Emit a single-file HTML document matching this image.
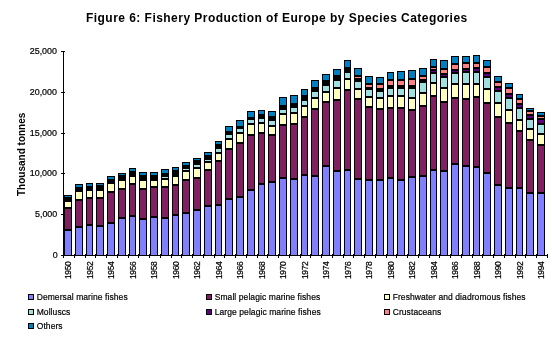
<!DOCTYPE html>
<html><head><meta charset="utf-8"><style>
html,body{margin:0;padding:0;background:#fff;}
.txt{filter:contrast(4);}
#c{position:relative;width:552px;height:338px;overflow:hidden;background:#fff;font-family:"Liberation Sans",sans-serif;color:#000;}
svg{position:absolute;left:0;top:0;}
.title{position:absolute;left:86px;top:11px;font-weight:bold;font-size:12px;letter-spacing:0.46px;white-space:nowrap;line-height:14px;}
.yl{position:absolute;right:494.7px;font-size:8.5px;-webkit-text-stroke:0.2px #000;line-height:12px;white-space:nowrap;transform-origin:100% 50%;transform:scale(1.05,1.15);}
.xl{position:absolute;top:279px;font-size:8.5px;-webkit-text-stroke:0.2px #000;letter-spacing:-0.4px;line-height:8px;white-space:nowrap;transform-origin:0 0;transform:rotate(-90deg) translate(0,-4.6px) scale(1,1.15);}
.ytitle{position:absolute;left:17px;top:196px;font-weight:bold;font-size:10px;letter-spacing:0px;line-height:9px;white-space:nowrap;transform-origin:0 0;transform:rotate(-90deg);}
.sw{position:absolute;width:4px;height:4px;border:1px solid #000;}
.lt{position:absolute;font-size:8.5px;letter-spacing:0.08px;-webkit-text-stroke:0.2px #000;line-height:12px;white-space:nowrap;}
</style></head><body><div id="c">
<svg width="552" height="338" shape-rendering="crispEdges">
<rect x="63" y="51" width="1" height="205" fill="#000"/>
<rect x="61" y="255" width="487" height="1" fill="#000"/>
<rect x="61" y="255" width="4" height="1" fill="#000"/>
<rect x="61" y="214" width="4" height="1" fill="#000"/>
<rect x="61" y="173" width="4" height="1" fill="#000"/>
<rect x="61" y="133" width="4" height="1" fill="#000"/>
<rect x="61" y="92" width="4" height="1" fill="#000"/>
<rect x="61" y="51" width="4" height="1" fill="#000"/>
<rect x="63" y="254" width="1" height="4" fill="#000"/>
<rect x="74" y="254" width="1" height="4" fill="#000"/>
<rect x="85" y="254" width="1" height="4" fill="#000"/>
<rect x="95" y="254" width="1" height="4" fill="#000"/>
<rect x="106" y="254" width="1" height="4" fill="#000"/>
<rect x="117" y="254" width="1" height="4" fill="#000"/>
<rect x="128" y="254" width="1" height="4" fill="#000"/>
<rect x="138" y="254" width="1" height="4" fill="#000"/>
<rect x="149" y="254" width="1" height="4" fill="#000"/>
<rect x="160" y="254" width="1" height="4" fill="#000"/>
<rect x="171" y="254" width="1" height="4" fill="#000"/>
<rect x="181" y="254" width="1" height="4" fill="#000"/>
<rect x="192" y="254" width="1" height="4" fill="#000"/>
<rect x="203" y="254" width="1" height="4" fill="#000"/>
<rect x="214" y="254" width="1" height="4" fill="#000"/>
<rect x="224" y="254" width="1" height="4" fill="#000"/>
<rect x="235" y="254" width="1" height="4" fill="#000"/>
<rect x="246" y="254" width="1" height="4" fill="#000"/>
<rect x="257" y="254" width="1" height="4" fill="#000"/>
<rect x="267" y="254" width="1" height="4" fill="#000"/>
<rect x="278" y="254" width="1" height="4" fill="#000"/>
<rect x="289" y="254" width="1" height="4" fill="#000"/>
<rect x="300" y="254" width="1" height="4" fill="#000"/>
<rect x="310" y="254" width="1" height="4" fill="#000"/>
<rect x="321" y="254" width="1" height="4" fill="#000"/>
<rect x="332" y="254" width="1" height="4" fill="#000"/>
<rect x="343" y="254" width="1" height="4" fill="#000"/>
<rect x="353" y="254" width="1" height="4" fill="#000"/>
<rect x="364" y="254" width="1" height="4" fill="#000"/>
<rect x="375" y="254" width="1" height="4" fill="#000"/>
<rect x="386" y="254" width="1" height="4" fill="#000"/>
<rect x="396" y="254" width="1" height="4" fill="#000"/>
<rect x="407" y="254" width="1" height="4" fill="#000"/>
<rect x="418" y="254" width="1" height="4" fill="#000"/>
<rect x="429" y="254" width="1" height="4" fill="#000"/>
<rect x="439" y="254" width="1" height="4" fill="#000"/>
<rect x="450" y="254" width="1" height="4" fill="#000"/>
<rect x="461" y="254" width="1" height="4" fill="#000"/>
<rect x="472" y="254" width="1" height="4" fill="#000"/>
<rect x="482" y="254" width="1" height="4" fill="#000"/>
<rect x="493" y="254" width="1" height="4" fill="#000"/>
<rect x="504" y="254" width="1" height="4" fill="#000"/>
<rect x="515" y="254" width="1" height="4" fill="#000"/>
<rect x="525" y="254" width="1" height="4" fill="#000"/>
<rect x="536" y="254" width="1" height="4" fill="#000"/>
<rect x="547" y="254" width="1" height="4" fill="#000"/>
<rect x="64" y="195" width="8" height="60" fill="#000"/>
<rect x="65" y="196" width="6" height="1" fill="#0080C0"/>
<rect x="65" y="202" width="6" height="5" fill="#FFFFC0"/>
<rect x="65" y="209" width="6" height="20" fill="#802060"/>
<rect x="65" y="231" width="6" height="24" fill="#8080FF"/>
<rect x="75" y="184" width="8" height="71" fill="#000"/>
<rect x="76" y="185" width="6" height="2" fill="#0080C0"/>
<rect x="76" y="192" width="6" height="7" fill="#FFFFC0"/>
<rect x="76" y="201" width="6" height="25" fill="#802060"/>
<rect x="76" y="228" width="6" height="27" fill="#8080FF"/>
<rect x="86" y="183" width="7" height="72" fill="#000"/>
<rect x="87" y="184" width="5" height="2" fill="#0080C0"/>
<rect x="87" y="191" width="5" height="6" fill="#FFFFC0"/>
<rect x="87" y="199" width="5" height="25" fill="#802060"/>
<rect x="87" y="226" width="5" height="29" fill="#8080FF"/>
<rect x="96" y="183" width="8" height="72" fill="#000"/>
<rect x="97" y="184" width="6" height="1" fill="#0080C0"/>
<rect x="97" y="191" width="6" height="6" fill="#FFFFC0"/>
<rect x="97" y="199" width="6" height="26" fill="#802060"/>
<rect x="97" y="227" width="6" height="28" fill="#8080FF"/>
<rect x="107" y="176" width="8" height="79" fill="#000"/>
<rect x="108" y="177" width="6" height="2" fill="#0080C0"/>
<rect x="108" y="184" width="6" height="7" fill="#FFFFC0"/>
<rect x="108" y="193" width="6" height="29" fill="#802060"/>
<rect x="108" y="224" width="6" height="31" fill="#8080FF"/>
<rect x="118" y="173" width="8" height="82" fill="#000"/>
<rect x="119" y="174" width="6" height="1" fill="#0080C0"/>
<rect x="119" y="181" width="6" height="7" fill="#FFFFC0"/>
<rect x="119" y="190" width="6" height="27" fill="#802060"/>
<rect x="119" y="219" width="6" height="36" fill="#8080FF"/>
<rect x="129" y="168" width="7" height="87" fill="#000"/>
<rect x="130" y="169" width="5" height="2" fill="#0080C0"/>
<rect x="130" y="177" width="5" height="6" fill="#FFFFC0"/>
<rect x="130" y="185" width="5" height="30" fill="#802060"/>
<rect x="130" y="217" width="5" height="38" fill="#8080FF"/>
<rect x="139" y="172" width="8" height="83" fill="#000"/>
<rect x="140" y="173" width="6" height="2" fill="#0080C0"/>
<rect x="140" y="181" width="6" height="7" fill="#FFFFC0"/>
<rect x="140" y="190" width="6" height="28" fill="#802060"/>
<rect x="140" y="220" width="6" height="35" fill="#8080FF"/>
<rect x="150" y="172" width="8" height="83" fill="#000"/>
<rect x="151" y="173" width="6" height="2" fill="#0080C0"/>
<rect x="151" y="181" width="6" height="5" fill="#FFFFC0"/>
<rect x="151" y="188" width="6" height="28" fill="#802060"/>
<rect x="151" y="218" width="6" height="37" fill="#8080FF"/>
<rect x="161" y="169" width="8" height="86" fill="#000"/>
<rect x="162" y="170" width="6" height="3" fill="#0080C0"/>
<rect x="162" y="177" width="6" height="1" fill="#A0E0E0"/>
<rect x="162" y="180" width="6" height="6" fill="#FFFFC0"/>
<rect x="162" y="188" width="6" height="29" fill="#802060"/>
<rect x="162" y="219" width="6" height="36" fill="#8080FF"/>
<rect x="172" y="167" width="7" height="88" fill="#000"/>
<rect x="173" y="168" width="5" height="2" fill="#0080C0"/>
<rect x="173" y="177" width="5" height="7" fill="#FFFFC0"/>
<rect x="173" y="186" width="5" height="28" fill="#802060"/>
<rect x="173" y="216" width="5" height="39" fill="#8080FF"/>
<rect x="182" y="162" width="8" height="93" fill="#000"/>
<rect x="183" y="163" width="6" height="2" fill="#0080C0"/>
<rect x="183" y="169" width="6" height="1" fill="#A0E0E0"/>
<rect x="183" y="172" width="6" height="7" fill="#FFFFC0"/>
<rect x="183" y="181" width="6" height="31" fill="#802060"/>
<rect x="183" y="214" width="6" height="41" fill="#8080FF"/>
<rect x="193" y="158" width="8" height="97" fill="#000"/>
<rect x="194" y="159" width="6" height="1" fill="#0080C0"/>
<rect x="194" y="165" width="6" height="2" fill="#A0E0E0"/>
<rect x="194" y="169" width="6" height="8" fill="#FFFFC0"/>
<rect x="194" y="179" width="6" height="30" fill="#802060"/>
<rect x="194" y="211" width="6" height="44" fill="#8080FF"/>
<rect x="204" y="152" width="8" height="103" fill="#000"/>
<rect x="205" y="153" width="6" height="2" fill="#0080C0"/>
<rect x="205" y="160" width="6" height="1" fill="#A0E0E0"/>
<rect x="205" y="163" width="6" height="6" fill="#FFFFC0"/>
<rect x="205" y="171" width="6" height="34" fill="#802060"/>
<rect x="205" y="207" width="6" height="48" fill="#8080FF"/>
<rect x="215" y="141" width="7" height="114" fill="#000"/>
<rect x="216" y="142" width="5" height="2" fill="#0080C0"/>
<rect x="216" y="149" width="5" height="3" fill="#A0E0E0"/>
<rect x="216" y="154" width="5" height="6" fill="#FFFFC0"/>
<rect x="216" y="162" width="5" height="42" fill="#802060"/>
<rect x="216" y="206" width="5" height="49" fill="#8080FF"/>
<rect x="225" y="126" width="8" height="129" fill="#000"/>
<rect x="226" y="127" width="6" height="4" fill="#0080C0"/>
<rect x="226" y="135" width="6" height="3" fill="#A0E0E0"/>
<rect x="226" y="140" width="6" height="8" fill="#FFFFC0"/>
<rect x="226" y="150" width="6" height="48" fill="#802060"/>
<rect x="226" y="200" width="6" height="55" fill="#8080FF"/>
<rect x="236" y="120" width="8" height="135" fill="#000"/>
<rect x="237" y="121" width="6" height="5" fill="#0080C0"/>
<rect x="237" y="129" width="6" height="3" fill="#A0E0E0"/>
<rect x="237" y="134" width="6" height="8" fill="#FFFFC0"/>
<rect x="237" y="144" width="6" height="52" fill="#802060"/>
<rect x="237" y="198" width="6" height="57" fill="#8080FF"/>
<rect x="247" y="111" width="8" height="144" fill="#000"/>
<rect x="248" y="112" width="6" height="5" fill="#0080C0"/>
<rect x="248" y="120" width="6" height="3" fill="#A0E0E0"/>
<rect x="248" y="125" width="6" height="9" fill="#FFFFC0"/>
<rect x="248" y="136" width="6" height="53" fill="#802060"/>
<rect x="248" y="191" width="6" height="64" fill="#8080FF"/>
<rect x="258" y="110" width="7" height="145" fill="#000"/>
<rect x="259" y="111" width="5" height="3" fill="#0080C0"/>
<rect x="259" y="119" width="5" height="3" fill="#A0E0E0"/>
<rect x="259" y="124" width="5" height="8" fill="#FFFFC0"/>
<rect x="259" y="134" width="5" height="49" fill="#802060"/>
<rect x="259" y="185" width="5" height="70" fill="#8080FF"/>
<rect x="268" y="111" width="8" height="144" fill="#000"/>
<rect x="269" y="112" width="6" height="4" fill="#0080C0"/>
<rect x="269" y="121" width="6" height="4" fill="#A0E0E0"/>
<rect x="269" y="127" width="6" height="7" fill="#FFFFC0"/>
<rect x="269" y="136" width="6" height="45" fill="#802060"/>
<rect x="269" y="183" width="6" height="72" fill="#8080FF"/>
<rect x="279" y="97" width="8" height="158" fill="#000"/>
<rect x="280" y="98" width="6" height="7" fill="#0080C0"/>
<rect x="280" y="110" width="6" height="3" fill="#A0E0E0"/>
<rect x="280" y="115" width="6" height="9" fill="#FFFFC0"/>
<rect x="280" y="126" width="6" height="51" fill="#802060"/>
<rect x="280" y="179" width="6" height="76" fill="#8080FF"/>
<rect x="290" y="95" width="8" height="160" fill="#000"/>
<rect x="291" y="96" width="6" height="7" fill="#0080C0"/>
<rect x="291" y="108" width="6" height="4" fill="#A0E0E0"/>
<rect x="291" y="114" width="6" height="9" fill="#FFFFC0"/>
<rect x="291" y="125" width="6" height="53" fill="#802060"/>
<rect x="291" y="180" width="6" height="75" fill="#8080FF"/>
<rect x="301" y="89" width="7" height="166" fill="#000"/>
<rect x="302" y="90" width="5" height="5" fill="#0080C0"/>
<rect x="302" y="101" width="5" height="4" fill="#A0E0E0"/>
<rect x="302" y="107" width="5" height="9" fill="#FFFFC0"/>
<rect x="302" y="118" width="5" height="56" fill="#802060"/>
<rect x="302" y="176" width="5" height="79" fill="#8080FF"/>
<rect x="311" y="80" width="8" height="175" fill="#000"/>
<rect x="312" y="81" width="6" height="6" fill="#0080C0"/>
<rect x="312" y="92" width="6" height="5" fill="#A0E0E0"/>
<rect x="312" y="99" width="6" height="9" fill="#FFFFC0"/>
<rect x="312" y="110" width="6" height="65" fill="#802060"/>
<rect x="312" y="177" width="6" height="78" fill="#8080FF"/>
<rect x="322" y="74" width="8" height="181" fill="#000"/>
<rect x="323" y="75" width="6" height="5" fill="#0080C0"/>
<rect x="323" y="86" width="6" height="5" fill="#A0E0E0"/>
<rect x="323" y="93" width="6" height="8" fill="#FFFFC0"/>
<rect x="323" y="103" width="6" height="62" fill="#802060"/>
<rect x="323" y="167" width="6" height="88" fill="#8080FF"/>
<rect x="333" y="69" width="8" height="186" fill="#000"/>
<rect x="334" y="70" width="6" height="5" fill="#0080C0"/>
<rect x="334" y="81" width="6" height="6" fill="#A0E0E0"/>
<rect x="334" y="89" width="6" height="10" fill="#FFFFC0"/>
<rect x="334" y="101" width="6" height="69" fill="#802060"/>
<rect x="334" y="172" width="6" height="83" fill="#8080FF"/>
<rect x="344" y="60" width="7" height="195" fill="#000"/>
<rect x="345" y="61" width="5" height="6" fill="#0080C0"/>
<rect x="345" y="73" width="5" height="5" fill="#A0E0E0"/>
<rect x="345" y="80" width="5" height="9" fill="#FFFFC0"/>
<rect x="345" y="91" width="5" height="78" fill="#802060"/>
<rect x="345" y="171" width="5" height="84" fill="#8080FF"/>
<rect x="354" y="68" width="8" height="187" fill="#000"/>
<rect x="355" y="69" width="6" height="6" fill="#0080C0"/>
<rect x="355" y="77" width="6" height="1" fill="#FF8080"/>
<rect x="355" y="82" width="6" height="6" fill="#A0E0E0"/>
<rect x="355" y="90" width="6" height="8" fill="#FFFFC0"/>
<rect x="355" y="100" width="6" height="78" fill="#802060"/>
<rect x="355" y="180" width="6" height="75" fill="#8080FF"/>
<rect x="365" y="76" width="8" height="179" fill="#000"/>
<rect x="366" y="77" width="6" height="6" fill="#0080C0"/>
<rect x="366" y="85" width="6" height="2" fill="#FF8080"/>
<rect x="366" y="90" width="6" height="6" fill="#A0E0E0"/>
<rect x="366" y="98" width="6" height="8" fill="#FFFFC0"/>
<rect x="366" y="108" width="6" height="71" fill="#802060"/>
<rect x="366" y="181" width="6" height="74" fill="#8080FF"/>
<rect x="376" y="77" width="8" height="178" fill="#000"/>
<rect x="377" y="78" width="6" height="5" fill="#0080C0"/>
<rect x="377" y="85" width="6" height="3" fill="#FF8080"/>
<rect x="377" y="92" width="6" height="5" fill="#A0E0E0"/>
<rect x="377" y="99" width="6" height="9" fill="#FFFFC0"/>
<rect x="377" y="110" width="6" height="69" fill="#802060"/>
<rect x="377" y="181" width="6" height="74" fill="#8080FF"/>
<rect x="387" y="72" width="7" height="183" fill="#000"/>
<rect x="388" y="73" width="5" height="6" fill="#0080C0"/>
<rect x="388" y="81" width="5" height="4" fill="#FF8080"/>
<rect x="388" y="89" width="5" height="6" fill="#A0E0E0"/>
<rect x="388" y="97" width="5" height="10" fill="#FFFFC0"/>
<rect x="388" y="109" width="5" height="68" fill="#802060"/>
<rect x="388" y="179" width="5" height="76" fill="#8080FF"/>
<rect x="397" y="71" width="8" height="184" fill="#000"/>
<rect x="398" y="72" width="6" height="7" fill="#0080C0"/>
<rect x="398" y="81" width="6" height="4" fill="#FF8080"/>
<rect x="398" y="89" width="6" height="6" fill="#A0E0E0"/>
<rect x="398" y="97" width="6" height="10" fill="#FFFFC0"/>
<rect x="398" y="109" width="6" height="70" fill="#802060"/>
<rect x="398" y="181" width="6" height="74" fill="#8080FF"/>
<rect x="408" y="70" width="8" height="185" fill="#000"/>
<rect x="409" y="71" width="6" height="7" fill="#0080C0"/>
<rect x="409" y="80" width="6" height="5" fill="#FF8080"/>
<rect x="409" y="89" width="6" height="8" fill="#A0E0E0"/>
<rect x="409" y="99" width="6" height="10" fill="#FFFFC0"/>
<rect x="409" y="111" width="6" height="65" fill="#802060"/>
<rect x="409" y="178" width="6" height="77" fill="#8080FF"/>
<rect x="419" y="68" width="8" height="187" fill="#000"/>
<rect x="420" y="69" width="6" height="6" fill="#0080C0"/>
<rect x="420" y="77" width="6" height="2" fill="#FF8080"/>
<rect x="420" y="83" width="6" height="9" fill="#A0E0E0"/>
<rect x="420" y="94" width="6" height="11" fill="#FFFFC0"/>
<rect x="420" y="107" width="6" height="68" fill="#802060"/>
<rect x="420" y="177" width="6" height="78" fill="#8080FF"/>
<rect x="430" y="59" width="7" height="196" fill="#000"/>
<rect x="431" y="60" width="5" height="6" fill="#0080C0"/>
<rect x="431" y="68" width="5" height="1" fill="#FF8080"/>
<rect x="431" y="71" width="5" height="1" fill="#600080"/>
<rect x="431" y="74" width="5" height="8" fill="#A0E0E0"/>
<rect x="431" y="84" width="5" height="11" fill="#FFFFC0"/>
<rect x="431" y="97" width="5" height="72" fill="#802060"/>
<rect x="431" y="171" width="5" height="84" fill="#8080FF"/>
<rect x="440" y="60" width="8" height="195" fill="#000"/>
<rect x="441" y="61" width="6" height="7" fill="#0080C0"/>
<rect x="441" y="70" width="6" height="3" fill="#FF8080"/>
<rect x="441" y="75" width="6" height="1" fill="#600080"/>
<rect x="441" y="78" width="6" height="9" fill="#A0E0E0"/>
<rect x="441" y="89" width="6" height="12" fill="#FFFFC0"/>
<rect x="441" y="103" width="6" height="67" fill="#802060"/>
<rect x="441" y="172" width="6" height="83" fill="#8080FF"/>
<rect x="451" y="56" width="8" height="199" fill="#000"/>
<rect x="452" y="57" width="6" height="6" fill="#0080C0"/>
<rect x="452" y="65" width="6" height="4" fill="#FF8080"/>
<rect x="452" y="71" width="6" height="1" fill="#600080"/>
<rect x="452" y="74" width="6" height="9" fill="#A0E0E0"/>
<rect x="452" y="85" width="6" height="12" fill="#FFFFC0"/>
<rect x="452" y="99" width="6" height="64" fill="#802060"/>
<rect x="452" y="165" width="6" height="90" fill="#8080FF"/>
<rect x="462" y="56" width="8" height="199" fill="#000"/>
<rect x="463" y="57" width="6" height="5" fill="#0080C0"/>
<rect x="463" y="64" width="6" height="4" fill="#FF8080"/>
<rect x="463" y="70" width="6" height="1" fill="#600080"/>
<rect x="463" y="73" width="6" height="10" fill="#A0E0E0"/>
<rect x="463" y="85" width="6" height="13" fill="#FFFFC0"/>
<rect x="463" y="100" width="6" height="65" fill="#802060"/>
<rect x="463" y="167" width="6" height="88" fill="#8080FF"/>
<rect x="473" y="55" width="7" height="200" fill="#000"/>
<rect x="474" y="56" width="5" height="6" fill="#0080C0"/>
<rect x="474" y="64" width="5" height="3" fill="#FF8080"/>
<rect x="474" y="69" width="5" height="2" fill="#600080"/>
<rect x="474" y="73" width="5" height="10" fill="#A0E0E0"/>
<rect x="474" y="85" width="5" height="11" fill="#FFFFC0"/>
<rect x="474" y="98" width="5" height="68" fill="#802060"/>
<rect x="474" y="168" width="5" height="87" fill="#8080FF"/>
<rect x="483" y="60" width="8" height="195" fill="#000"/>
<rect x="484" y="61" width="6" height="5" fill="#0080C0"/>
<rect x="484" y="68" width="6" height="4" fill="#FF8080"/>
<rect x="484" y="74" width="6" height="2" fill="#600080"/>
<rect x="484" y="78" width="6" height="10" fill="#A0E0E0"/>
<rect x="484" y="90" width="6" height="12" fill="#FFFFC0"/>
<rect x="484" y="104" width="6" height="68" fill="#802060"/>
<rect x="484" y="174" width="6" height="81" fill="#8080FF"/>
<rect x="494" y="76" width="8" height="179" fill="#000"/>
<rect x="495" y="77" width="6" height="4" fill="#0080C0"/>
<rect x="495" y="83" width="6" height="3" fill="#FF8080"/>
<rect x="495" y="88" width="6" height="2" fill="#600080"/>
<rect x="495" y="92" width="6" height="10" fill="#A0E0E0"/>
<rect x="495" y="104" width="6" height="12" fill="#FFFFC0"/>
<rect x="495" y="118" width="6" height="66" fill="#802060"/>
<rect x="495" y="186" width="6" height="69" fill="#8080FF"/>
<rect x="505" y="83" width="8" height="172" fill="#000"/>
<rect x="506" y="84" width="6" height="3" fill="#0080C0"/>
<rect x="506" y="89" width="6" height="4" fill="#FF8080"/>
<rect x="506" y="95" width="6" height="2" fill="#600080"/>
<rect x="506" y="99" width="6" height="10" fill="#A0E0E0"/>
<rect x="506" y="111" width="6" height="11" fill="#FFFFC0"/>
<rect x="506" y="124" width="6" height="63" fill="#802060"/>
<rect x="506" y="189" width="6" height="66" fill="#8080FF"/>
<rect x="516" y="94" width="7" height="161" fill="#000"/>
<rect x="517" y="95" width="5" height="3" fill="#0080C0"/>
<rect x="517" y="100" width="5" height="3" fill="#FF8080"/>
<rect x="517" y="105" width="5" height="2" fill="#600080"/>
<rect x="517" y="109" width="5" height="10" fill="#A0E0E0"/>
<rect x="517" y="121" width="5" height="9" fill="#FFFFC0"/>
<rect x="517" y="132" width="5" height="55" fill="#802060"/>
<rect x="517" y="189" width="5" height="66" fill="#8080FF"/>
<rect x="526" y="108" width="8" height="147" fill="#000"/>
<rect x="527" y="109" width="6" height="1" fill="#0080C0"/>
<rect x="527" y="112" width="6" height="2" fill="#FF8080"/>
<rect x="527" y="116" width="6" height="2" fill="#600080"/>
<rect x="527" y="120" width="6" height="8" fill="#A0E0E0"/>
<rect x="527" y="130" width="6" height="9" fill="#FFFFC0"/>
<rect x="527" y="141" width="6" height="51" fill="#802060"/>
<rect x="527" y="194" width="6" height="61" fill="#8080FF"/>
<rect x="537" y="112" width="8" height="143" fill="#000"/>
<rect x="538" y="113" width="6" height="2" fill="#0080C0"/>
<rect x="538" y="117" width="6" height="1" fill="#FF8080"/>
<rect x="538" y="120" width="6" height="3" fill="#600080"/>
<rect x="538" y="125" width="6" height="8" fill="#A0E0E0"/>
<rect x="538" y="135" width="6" height="9" fill="#FFFFC0"/>
<rect x="538" y="146" width="6" height="46" fill="#802060"/>
<rect x="538" y="194" width="6" height="61" fill="#8080FF"/>
</svg>
<div class="txt"><div class="title">Figure 6: Fishery Production of Europe by Species Categories</div>
<div class="yl" style="top:249px">0</div>
<div class="yl" style="top:208px">5,000</div>
<div class="yl" style="top:167px">10,000</div>
<div class="yl" style="top:127px">15,000</div>
<div class="yl" style="top:86px">20,000</div>
<div class="yl" style="top:45px">25,000</div>
<div class="ytitle">Thousand tonnes</div>
<div class="xl" style="left:68.1775px">1950</div>
<div class="xl" style="left:89.6875px">1952</div>
<div class="xl" style="left:111.1975px">1954</div>
<div class="xl" style="left:132.7075px">1956</div>
<div class="xl" style="left:154.21750000000003px">1958</div>
<div class="xl" style="left:175.72750000000002px">1960</div>
<div class="xl" style="left:197.2375px">1962</div>
<div class="xl" style="left:218.74750000000003px">1964</div>
<div class="xl" style="left:240.25750000000002px">1966</div>
<div class="xl" style="left:261.7675px">1968</div>
<div class="xl" style="left:283.27750000000003px">1970</div>
<div class="xl" style="left:304.7875px">1972</div>
<div class="xl" style="left:326.2975px">1974</div>
<div class="xl" style="left:347.8075px">1976</div>
<div class="xl" style="left:369.31750000000005px">1978</div>
<div class="xl" style="left:390.82750000000004px">1980</div>
<div class="xl" style="left:412.33750000000003px">1982</div>
<div class="xl" style="left:433.8475px">1984</div>
<div class="xl" style="left:455.3575px">1986</div>
<div class="xl" style="left:476.86750000000006px">1988</div>
<div class="xl" style="left:498.37750000000005px">1990</div>
<div class="xl" style="left:519.8875px">1992</div>
<div class="xl" style="left:541.3975px">1994</div>
<div class="lt" style="left:36.7px;top:291px">Demersal marine fishes</div>
<div class="lt" style="left:214.7px;top:291px">Small pelagic marine fishes</div>
<div class="lt" style="left:392.7px;top:291px">Freshwater and diadromous fishes</div>
<div class="lt" style="left:36.7px;top:306px">Molluscs</div>
<div class="lt" style="left:214.7px;top:306px">Large pelagic marine fishes</div>
<div class="lt" style="left:392.7px;top:306px">Crustaceans</div>
<div class="lt" style="left:36.7px;top:320px">Others</div>
</div>
<div class="sw" style="left:28px;top:294px;background:#8080FF"></div>
<div class="sw" style="left:206px;top:294px;background:#802060"></div>
<div class="sw" style="left:384px;top:294px;background:#FFFFC0"></div>
<div class="sw" style="left:28px;top:309px;background:#A0E0E0"></div>
<div class="sw" style="left:206px;top:309px;background:#600080"></div>
<div class="sw" style="left:384px;top:309px;background:#FF8080"></div>
<div class="sw" style="left:28px;top:323px;background:#0080C0"></div>
</div></body></html>
